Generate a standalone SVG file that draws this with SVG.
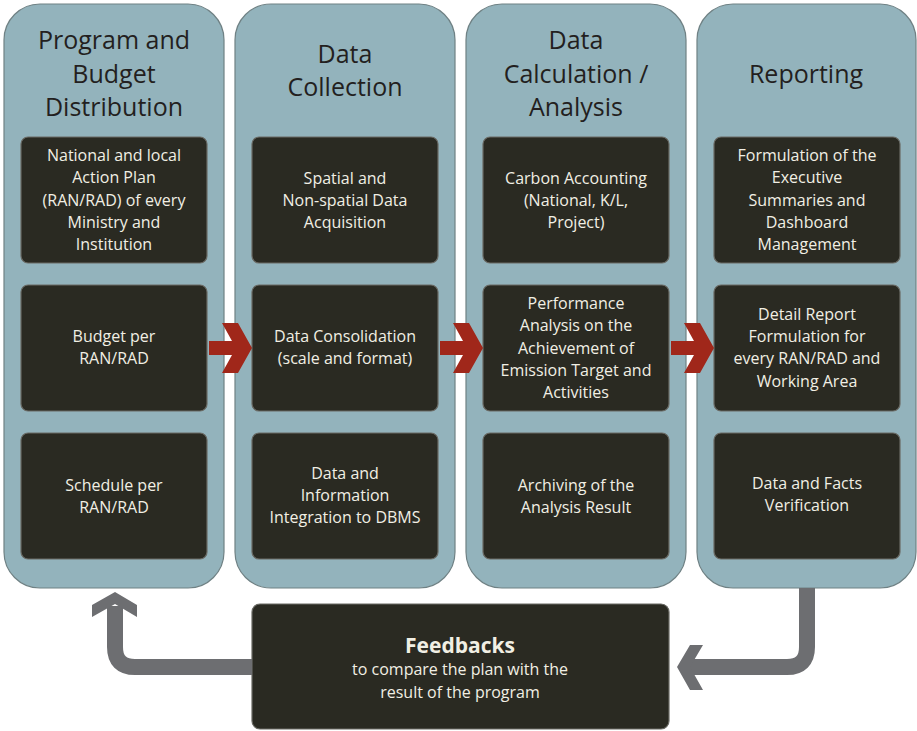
<svg xmlns="http://www.w3.org/2000/svg" width="917" height="731" viewBox="0 0 917 731">
<style>
.col{fill:#93b3bc;stroke:#6f8184;stroke-width:1.2}
.box{fill:#2a2a22;stroke:#6a6a64;stroke-width:1.2}
.title{font-family:"Open Sans","Liberation Sans",sans-serif;font-size:25px;fill:#231f20;text-anchor:middle}
.txt{font-family:"Open Sans","Liberation Sans",sans-serif;font-size:16px;fill:#f1efe4;text-anchor:middle}
.fbt{font-family:"Open Sans","Liberation Sans",sans-serif;font-size:21px;font-weight:bold;fill:#f1efe4;text-anchor:middle}
.chev{fill:#a0271a}
.garrow{fill:none;stroke:#6d6e71;stroke-width:16}
.ghead{fill:#6d6e71}
</style>
<rect width="917" height="731" fill="#ffffff"/>
<g id="col-program">
<rect class="col" x="4" y="4" width="220" height="584" rx="36"/>
<text class="title"><tspan x="114" y="49">Program and</tspan><tspan x="114" y="83">Budget</tspan><tspan x="114" y="116">Distribution</tspan></text>
</g>
<g id="col-collection">
<rect class="col" x="235" y="4" width="220" height="584" rx="36"/>
<text class="title"><tspan x="345" y="63">Data</tspan><tspan x="345" y="96">Collection</tspan></text>
</g>
<g id="col-analysis">
<rect class="col" x="466" y="4" width="220" height="584" rx="36"/>
<text class="title"><tspan x="576" y="49">Data</tspan><tspan x="576" y="83">Calculation /</tspan><tspan x="576" y="116">Analysis</tspan></text>
</g>
<g id="col-reporting">
<rect class="col" x="697" y="4" width="219" height="584" rx="36"/>
<text class="title"><tspan x="806" y="83">Reporting</tspan></text>
</g>

<g id="n-action-plan">
<rect class="box" x="21" y="137" width="186" height="126" rx="7"/>
<text class="txt"><tspan x="114" y="161">National and local</tspan><tspan x="114" y="183">Action Plan</tspan><tspan x="114" y="206">(RAN/RAD) of every</tspan><tspan x="114" y="228">Ministry and</tspan><tspan x="114" y="250">Institution</tspan></text>
</g>
<g id="n-budget">
<rect class="box" x="21" y="285" width="186" height="126" rx="7"/>
<text class="txt"><tspan x="114" y="342">Budget per</tspan><tspan x="114" y="364">RAN/RAD</tspan></text>
</g>
<g id="n-schedule">
<rect class="box" x="21" y="433" width="186" height="126" rx="7"/>
<text class="txt"><tspan x="114" y="491">Schedule per</tspan><tspan x="114" y="513">RAN/RAD</tspan></text>
</g>

<g id="n-acquisition">
<rect class="box" x="252" y="137" width="186" height="126" rx="7"/>
<text class="txt"><tspan x="345" y="184">Spatial and</tspan><tspan x="345" y="206">Non-spatial Data</tspan><tspan x="345" y="228">Acquisition</tspan></text>
</g>
<g id="n-consolidation">
<rect class="box" x="252" y="285" width="186" height="126" rx="7"/>
<text class="txt"><tspan x="345" y="342">Data Consolidation</tspan><tspan x="345" y="364">(scale and format)</tspan></text>
</g>
<g id="n-integration">
<rect class="box" x="252" y="433" width="186" height="126" rx="7"/>
<text class="txt"><tspan x="345" y="479">Data and</tspan><tspan x="345" y="501">Information</tspan><tspan x="345" y="523">Integration to DBMS</tspan></text>
</g>

<g id="n-carbon">
<rect class="box" x="483" y="137" width="186" height="126" rx="7"/>
<text class="txt"><tspan x="576" y="184">Carbon Accounting</tspan><tspan x="576" y="206">(National, K/L,</tspan><tspan x="576" y="228">Project)</tspan></text>
</g>
<g id="n-performance">
<rect class="box" x="483" y="285" width="186" height="126" rx="7"/>
<text class="txt"><tspan x="576" y="309">Performance</tspan><tspan x="576" y="331">Analysis on the</tspan><tspan x="576" y="354">Achievement of</tspan><tspan x="576" y="376">Emission Target and</tspan><tspan x="576" y="398">Activities</tspan></text>
</g>
<g id="n-archiving">
<rect class="box" x="483" y="433" width="186" height="126" rx="7"/>
<text class="txt"><tspan x="576" y="491">Archiving of the</tspan><tspan x="576" y="513">Analysis Result</tspan></text>
</g>

<g id="n-executive">
<rect class="box" x="714" y="137" width="186" height="126" rx="7"/>
<text class="txt"><tspan x="807" y="161">Formulation of the</tspan><tspan x="807" y="183">Executive</tspan><tspan x="807" y="206">Summaries and</tspan><tspan x="807" y="228">Dashboard</tspan><tspan x="807" y="250">Management</tspan></text>
</g>
<g id="n-detail">
<rect class="box" x="714" y="285" width="186" height="126" rx="7"/>
<text class="txt"><tspan x="807" y="320">Detail Report</tspan><tspan x="807" y="342">Formulation for</tspan><tspan x="807" y="364">every RAN/RAD and</tspan><tspan x="807" y="387">Working Area</tspan></text>
</g>
<g id="n-verification">
<rect class="box" x="714" y="433" width="186" height="126" rx="7"/>
<text class="txt"><tspan x="807" y="489">Data and Facts</tspan><tspan x="807" y="511">Verification</tspan></text>
</g>

<g id="n-feedbacks">
<rect class="box" x="252" y="604" width="417" height="125" rx="8"/>
<text class="fbt" x="460" y="653">Feedbacks</text>
<text class="txt"><tspan x="460" y="675">to compare the plan with the</tspan><tspan x="460" y="698">result of the program</tspan></text>
</g>

<g id="connectors">
<polygon class="chev" points="209,341 232,341 222,323 238,323 252,348 238,373 222,373 232,355 209,355"/>
<polygon class="chev" points="440,341 463,341 453,323 469,323 483,348 469,373 453,373 463,355 440,355"/>
<polygon class="chev" points="671,341 694,341 684,323 700,323 714,348 700,373 684,373 694,355 671,355"/>
<path class="garrow" d="M252,667 H135 Q115,667 115,647 V606"/>
<polygon class="ghead" points="115,592 137,605 137,617 115,604 92,617 92,605"/>
<path class="garrow" d="M807,588 V647 Q807,667 787,667 H690"/>
<polygon class="ghead" points="677,667 690,645 703,645 690,667 703,690 690,690"/>
</g>
</svg>
